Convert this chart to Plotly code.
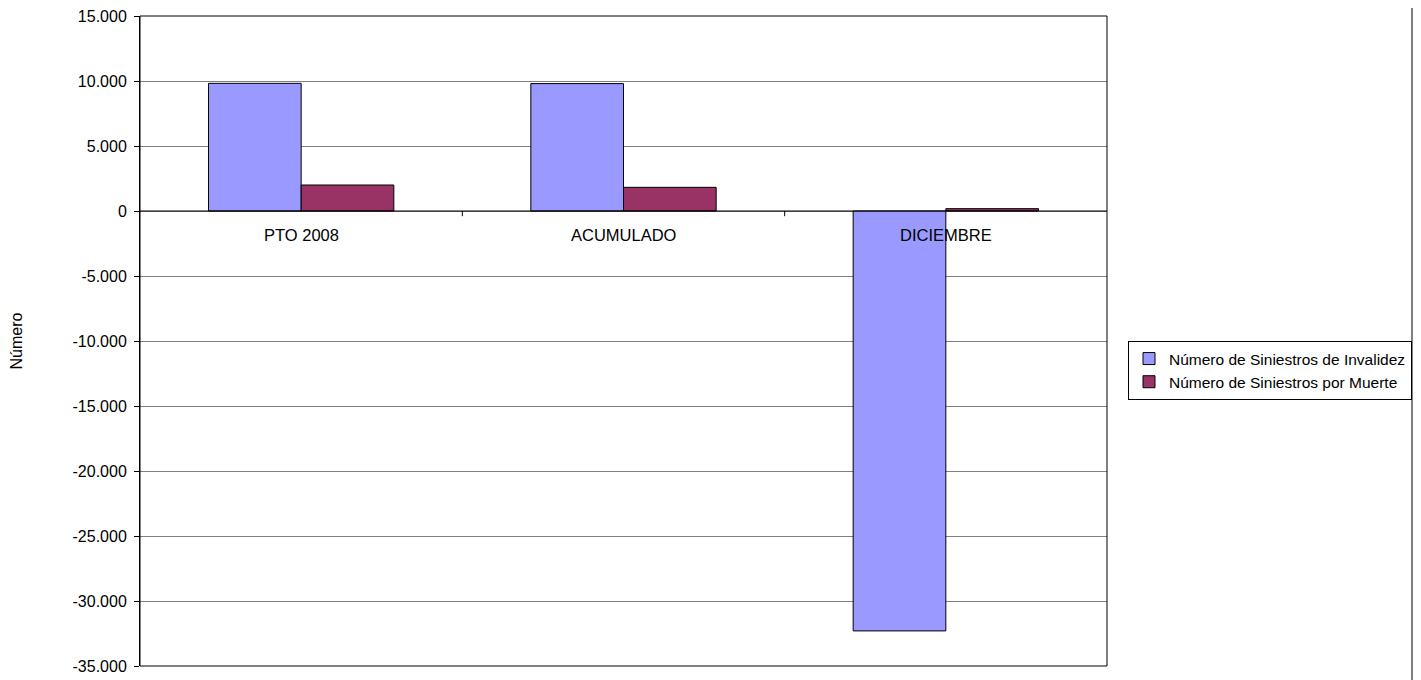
import plotly.graph_objects as go

categories = ["PTO 2008", "ACUMULADO", "DICIEMBRE"]
invalidez = [9820, 9800, -32300]
muerte = [2000, 1820, 180]
series_names = ["Número de Siniestros de Invalidez", "Número de Siniestros por Muerte"]
y_tickvals = [15000, 10000, 5000, 0, -5000, -10000, -15000, -20000, -25000, -30000, -35000]
y_ticktext = ["15.000", "10.000", "5.000", "0", "-5.000", "-10.000", "-15.000", "-20.000", "-25.000", "-30.000", "-35.000"]

FONT = "Liberation Sans, Arial, sans-serif"

# margins (compensating for the 8px page offset)
ML, MR, MT, MB = 132, 322, 8, 22
PW = 1421 - ML - MR
PH = 680 - MT - MB

fig = go.Figure()
fig.add_trace(go.Bar(x=categories, y=invalidez, name=series_names[0], legendgroup="a",
                     marker=dict(color="#9999FF", line=dict(color="#000000", width=1))))
fig.add_trace(go.Bar(x=categories, y=muerte, name=series_names[1], legendgroup="b",
                     marker=dict(color="#993366", line=dict(color="#000000", width=1))))

# category labels next to the zero line
for c in categories:
    fig.add_annotation(x=c, y=0, text=c, showarrow=False, yanchor="top", yshift=-13,
                       font=dict(family=FONT, size=16.5, color="#000"))

# tick marks between categories below the zero line
for i in range(1, len(categories)):
    fig.add_shape(type="line", xref="x", yref="y", x0=i - 0.5, x1=i - 0.5, y0=0, y1=-400,
                  line=dict(color="#000", width=1))

# zero line
fig.add_shape(type="line", xref="paper", yref="y", x0=0, x1=1, y0=0, y1=0,
              line=dict(color="#000", width=1))
# plot border
fig.add_shape(type="rect", xref="paper", yref="paper", x0=0, x1=1, y0=0, y1=1,
              line=dict(color="#000", width=1), layer="above")
# outer chart right border
xb = (1412 - 140) / PW
fig.add_shape(type="line", xref="paper", yref="paper", x0=xb, x1=xb,
              y0=-30 / PH, y1=1 + 30 / PH, line=dict(color="#000", width=1))

fig.update_layout(
    width=1421, height=680,
    margin=dict(l=ML, r=MR, t=MT, b=MB, autoexpand=False),
    paper_bgcolor="white", plot_bgcolor="white",
    barmode="group", bargap=0.425, bargroupgap=0,
    font=dict(family=FONT, size=16, color="#000"),
    showlegend=True,
    legend=dict(x=(1128 - 140) / PW, y=(666 - 341) / PH, xanchor="left", yanchor="top",
                bordercolor="#000", borderwidth=1, bgcolor="white",
                font=dict(family=FONT, size=15.5), tracegroupgap=0,
                itemwidth=30),
    xaxis=dict(showticklabels=False, showgrid=False, zeroline=False, showline=False,
               ticks="", range=[-0.5, 2.5], automargin=False),
    yaxis=dict(range=[-35000, 15000], tickvals=y_tickvals, ticktext=y_ticktext,
               showgrid=True, gridcolor="#808080", gridwidth=1, zeroline=False,
               showline=True, linecolor="#000", linewidth=1, ticks="outside", ticklen=5,
               tickcolor="#000", tickfont=dict(family=FONT, size=16), automargin=False,
               ticklabeloverflow="allow", ticklabelstandoff=4,
               title=dict(text="Número", font=dict(family=FONT, size=16), standoff=53)),
)

fig.write_html("out.html")
